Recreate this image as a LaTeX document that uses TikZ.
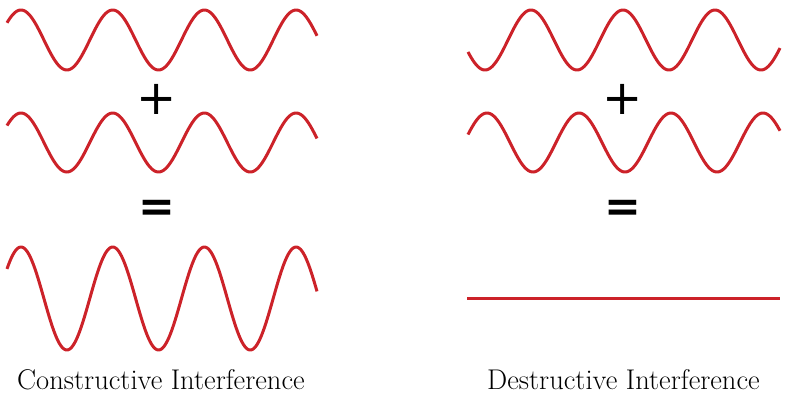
\documentclass[tikz,border=0pt]{standalone}
\usepackage{fontspec}
\newfontfamily\symfont{DejaVu Sans}
\newfontfamily\symboldfont{DejaVu Sans Bold}
\definecolor{wavered}{HTML}{CC2229}
\begin{document}
\begin{tikzpicture}[x=1pt,y=-1pt,
  wave/.style={draw=wavered,line width=3pt,line cap=butt,line join=round},
  plussym/.style={font=\symfont\fontsize{48}{48}\selectfont,inner sep=0pt,anchor=center},
  eqsym/.style={font=\symboldfont\fontsize{44}{44}\selectfont,inner sep=0pt,anchor=center},
  lbl/.style={font=\fontsize{28.5}{32}\selectfont,inner sep=0pt,anchor=base west}]
\useasboundingbox (0,0) rectangle (789,400);
% left column
\draw[wave] plot[domain=7:317,samples=250,smooth] (\x,{40-30*cos((\x-21)/91.7*360)});
\draw[wave] plot[domain=7:317,samples=250,smooth] (\x,{142.5-29.5*cos((\x-21)/91.7*360)});
\draw[wave] plot[domain=7:317,samples=250,smooth] (\x,{298.5-51.5*cos((\x-21)/91.7*360)});
\node[plussym] (plusL) at (156.5,99.5) {+};
\node[eqsym] (eqL) at (156.5,211) {=};
\node[lbl] (labL) at (17,389) {Constructive Interference};
% right column
\draw[wave] plot[domain=468:780,samples=250,smooth] (\x,{40+30*cos((\x-485)/92*360)});
\draw[wave] plot[domain=468:780,samples=250,smooth] (\x,{142.5-29.5*cos((\x-487)/92*360)});
\coordinate (flatA) at (467,298);
\coordinate (flatB) at (780,298);
\draw[wave] (flatA) -- (flatB);
\node[plussym] (plusR) at (623,99.5) {+};
\node[eqsym] (eqR) at (623,211) {=};
\node[lbl] (labR) at (487,389) {Destructive Interference};
\end{tikzpicture}
\end{document}
